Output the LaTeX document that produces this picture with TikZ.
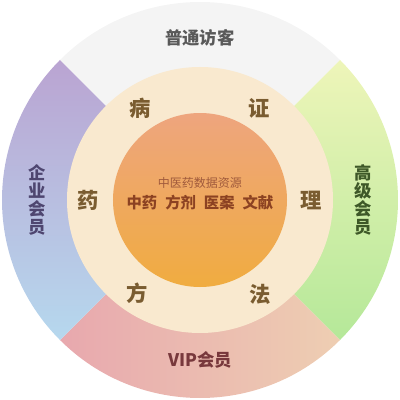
\documentclass[tikz,border=0pt]{standalone}
\usepackage{fontspec}
\setmainfont{Noto Sans CJK SC}
\usetikzlibrary{positioning}
\definecolor{visitor}{RGB}{244,244,244}
\definecolor{seniortop}{RGB}{238,245,185}
\definecolor{seniorbot}{RGB}{181,232,153}
\definecolor{viplt}{RGB}{232,168,174}
\definecolor{viprt}{RGB}{238,206,178}
\definecolor{firmtop}{RGB}{186,164,210}
\definecolor{firmbot}{RGB}{182,216,238}
\definecolor{ringfill}{RGB}{249,233,207}
\definecolor{coretop}{RGB}{238,165,126}
\definecolor{corebot}{RGB}{240,172,64}
\definecolor{ringink}{RGB}{122,92,48}
\definecolor{coreink}{RGB}{140,66,34}
\definecolor{titleink}{RGB}{160,90,60}
\tikzset{
  tier/.style={font=\fontsize{13}{13.6}\selectfont\bfseries, align=center, inner sep=0pt},
  ring/.style={font=\fontsize{16}{16}\selectfont\bfseries, text=ringink, inner sep=0pt},
  core/.style={font=\fontsize{11.5}{11.5}\selectfont\bfseries, text=coreink, inner sep=0pt},
}
\begin{document}
\begin{tikzpicture}[x=0.75pt, y=0.75pt]
  \useasboundingbox (-200,-200) rectangle (200,200);
  % four member tiers round the ring
  \fill[visitor] (0,0) -- (45:198) arc (45:135:198) -- cycle;
  \begin{scope}
    \clip (0,0) -- (-45:198) arc (-45:45:198) -- cycle;
    \shade[top color=seniortop, bottom color=seniorbot] (0,-140) rectangle (198,140);
  \end{scope}
  \begin{scope}
    \clip (0,0) -- (225:198) arc (225:315:198) -- cycle;
    \shade[left color=viplt, right color=viprt] (-140,-198) rectangle (140,0);
  \end{scope}
  \begin{scope}
    \clip (0,0) -- (135:198) arc (135:225:198) -- cycle;
    \shade[top color=firmtop, bottom color=firmbot] (-198,-140) rectangle (0,140);
  \end{scope}
  % ring and core
  \fill[ringfill] (0,0) circle (133);
  \shade[top color=coretop, bottom color=corebot] (0,0) circle (87);
  \node[tier, text=black!65] (guest) at (0,162) {普通访客};
  \node[tier, text={rgb,255:red,62;green,88;blue,40}] (senior) at (163,0) {高\\级\\会\\员};
  \node[tier, text={rgb,255:red,120;green,56;blue,60}] (vip) at (0,-160) {VIP会员};
  \node[tier, text={rgb,255:red,78;green,70;blue,112}] (firm) at (-163,0) {企\\业\\会\\员};
  \node[ring] (bing) at (-60,92) {病};
  \node[ring] (zheng) at (59,92) {证};
  \node[ring] (li) at (111,0) {理};
  \node[ring] (fa) at (60,-94) {法};
  \node[ring] (fang) at (-63,-93) {方};
  \node[ring] (yao) at (-112,0) {药};
  \node[core, font=\fontsize{9}{9}\selectfont, text=titleink] (title) at (0,17) {中医药数据资源};
  \node[core, below=6 of title] (items) {中药\hspace{6pt}方剂\hspace{6pt}医案\hspace{6pt}文献};
\end{tikzpicture}
\end{document}
